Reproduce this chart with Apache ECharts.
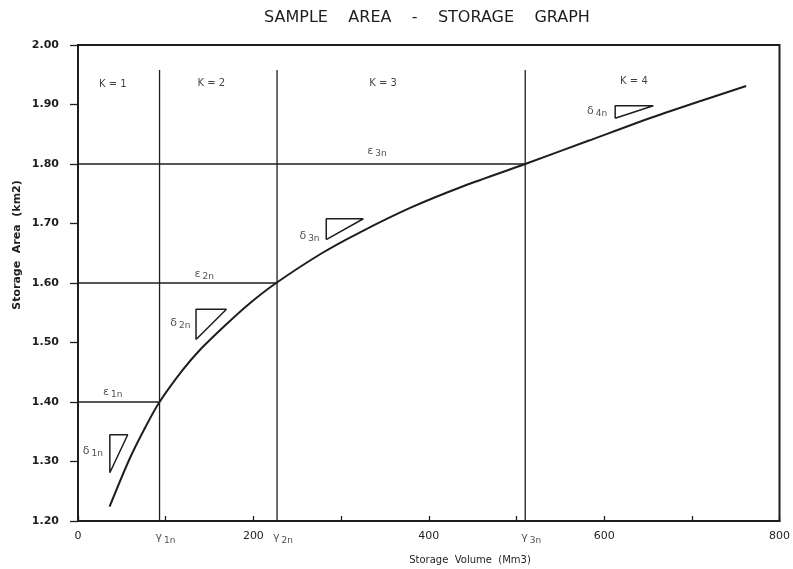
<!DOCTYPE html>
<html>
<head>
<meta charset="utf-8">
<script src="https://cdn.jsdelivr.net/npm/echarts@6/dist/echarts.min.js"></script>
<style>html,body{margin:0;padding:0;background:#fff}#c{width:793px;height:569px}</style>
</head>
<body>
<div id="c"></div>
<script>
// ---- data ----
const titleText = 'SAMPLE    AREA    -    STORAGE    GRAPH';
const xName = 'Storage  Volume  (Mm3)';
const yName = 'Storage  Area  (km2)';
const xTickLabels = [0, 200, 400, 600, 800];
// area-storage curve: storage volume (Mm3) and area (km2)
const curveVolume = [36, 59, 78, 93, 119, 140, 168, 196, 226, 278, 320, 380, 440, 510, 582, 656, 710, 762];
const curveArea   = [1.224, 1.305, 1.361, 1.40, 1.453, 1.489, 1.529, 1.566, 1.60, 1.650, 1.684, 1.727, 1.763, 1.80, 1.839, 1.879, 1.906, 1.931];
// break-points (gamma_kn, epsilon_kn)
const breakVolume = [93, 227, 510];
const breakArea   = [1.40, 1.60, 1.80];
const breakTop = 1.958;
const breakLabels = ['1n', '2n', '3n'];
// slope triangles: [x left, x right], [y bottom, y top]
const triX = [[36.3, 56.7], [134.6, 169.3], [283.1, 325.4], [612.6, 656.1]];
const triY = [[1.281, 1.345], [1.505, 1.556], [1.673, 1.708], [1.877, 1.898]];
// annotation texts
const kLabels = ['K = 1', 'K = 2', 'K = 3', 'K = 4'];
const kPos = [[39.7, 1.934], [152, 1.936], [348, 1.936], [634, 1.938]];
const epsPos = [[39.7, 1.417], [144, 1.615], [341, 1.822]];
const deltaSubs = ['1n', '2n', '3n', '4n'];
const deltaPos = [[17, 1.318], [116.8, 1.533], [264, 1.679], [592, 1.889]];

const INK = '#1e1e1e';
const FONT = 'DejaVu Sans';
const series = [];

// curve
series.push({
  type: 'line', data: curveVolume.map((v, i) => [v, curveArea[i]]),
  smooth: 0.3, symbol: 'none', lineStyle: {color: INK, width: 2}, z: 5
});
// verticals and horizontals
breakVolume.forEach((v, i) => {
  series.push({type: 'line', data: [[v, 1.2], [v, breakTop]], symbol: 'none',
    lineStyle: {color: INK, width: 1.3}});
  series.push({type: 'line', data: [[0, breakArea[i]], [v, breakArea[i]]], symbol: 'none',
    lineStyle: {color: INK, width: 1.3}});
});
// triangles
triX.forEach((tx, i) => {
  const ty = triY[i];
  series.push({type: 'line', symbol: 'none',
    data: [[tx[0], ty[0]], [tx[0], ty[1]], [tx[1], ty[1]], [tx[0], ty[0]]],
    lineStyle: {color: INK, width: 1.5}});
});
const rich = {
  m: {fontFamily: FONT, fontSize: 11, color: INK},
  s: {fontFamily: FONT, fontSize: 9, color: INK, padding: [6, 0, 0, 2]}
};
// text labels via scatter
function textSeries(points, fmt, extra) {
  return {
    type: 'scatter', symbolSize: 0, clip: false, silent: true,
    data: points.map((p, i) => ({value: p, name: String(i)})),
    label: Object.assign({show: true, position: 'inside', formatter: fmt, rich: rich}, extra || {})
  };
}
series.push(textSeries(kPos, p => kLabels[p.dataIndex],
  {fontFamily: FONT, fontSize: 10, color: '#111'}));
series.push(textSeries(epsPos, p => '{m|ε}{s|' + breakLabels[p.dataIndex] + '}'));
series.push(textSeries(deltaPos, p => '{m|δ}{s|' + deltaSubs[p.dataIndex] + '}'));
series.push(textSeries(breakVolume.map(v => [v, 1.2]),
  p => '{m|γ}{s|' + breakLabels[p.dataIndex] + '}',
  {position: 'bottom', distance: 9, align: 'left', offset: [-4, 0]}));

const chart = echarts.init(document.getElementById('c'), null, {renderer: 'canvas'});
chart.setOption({
  backgroundColor: '#fff',
  animation: false,
  title: {text: titleText, left: 422, top: 5, textAlign: 'center',
    textStyle: {fontFamily: FONT, fontSize: 16, fontWeight: 'normal', color: INK}},
  grid: {left: 78, right: 9, top: 45, bottom: 48, show: true, borderColor: INK, borderWidth: 2},
  xAxis: {
    type: 'value', min: 0, max: 800, interval: 100,
    axisLine: {show: true, lineStyle: {color: INK, width: 2}},
    axisTick: {show: true, inside: true, length: 5, lineStyle: {color: INK, width: 1.3}},
    splitLine: {show: false},
    axisLabel: {margin: 10, fontFamily: FONT, fontSize: 11, color: INK,
      formatter: v => xTickLabels.indexOf(v) >= 0 ? String(v) : ''}
  },
  yAxis: {
    type: 'value', min: 1.2, max: 2.0, interval: 0.1,
    axisLine: {show: true, lineStyle: {color: INK, width: 2}},
    axisTick: {show: true, inside: false, length: 8, lineStyle: {color: INK, width: 1.3}},
    splitLine: {show: false},
    axisLabel: {margin: 19, fontFamily: FONT, fontSize: 11, fontWeight: 'bold', color: INK,
      formatter: v => v.toFixed(2)}
  },
  graphic: [
    {type: 'text', x: 17, y: 245, rotation: Math.PI / 2,
      style: {text: yName, fontFamily: FONT, fontSize: 11, fontWeight: 'bold', fill: INK,
        textAlign: 'center', textVerticalAlign: 'middle'}},
    {type: 'text', x: 470, y: 560,
      style: {text: xName, fontFamily: FONT, fontSize: 10, fill: INK,
        textAlign: 'center', textVerticalAlign: 'middle'}}
  ],
  series: series
});
</script>
</body>
</html>
